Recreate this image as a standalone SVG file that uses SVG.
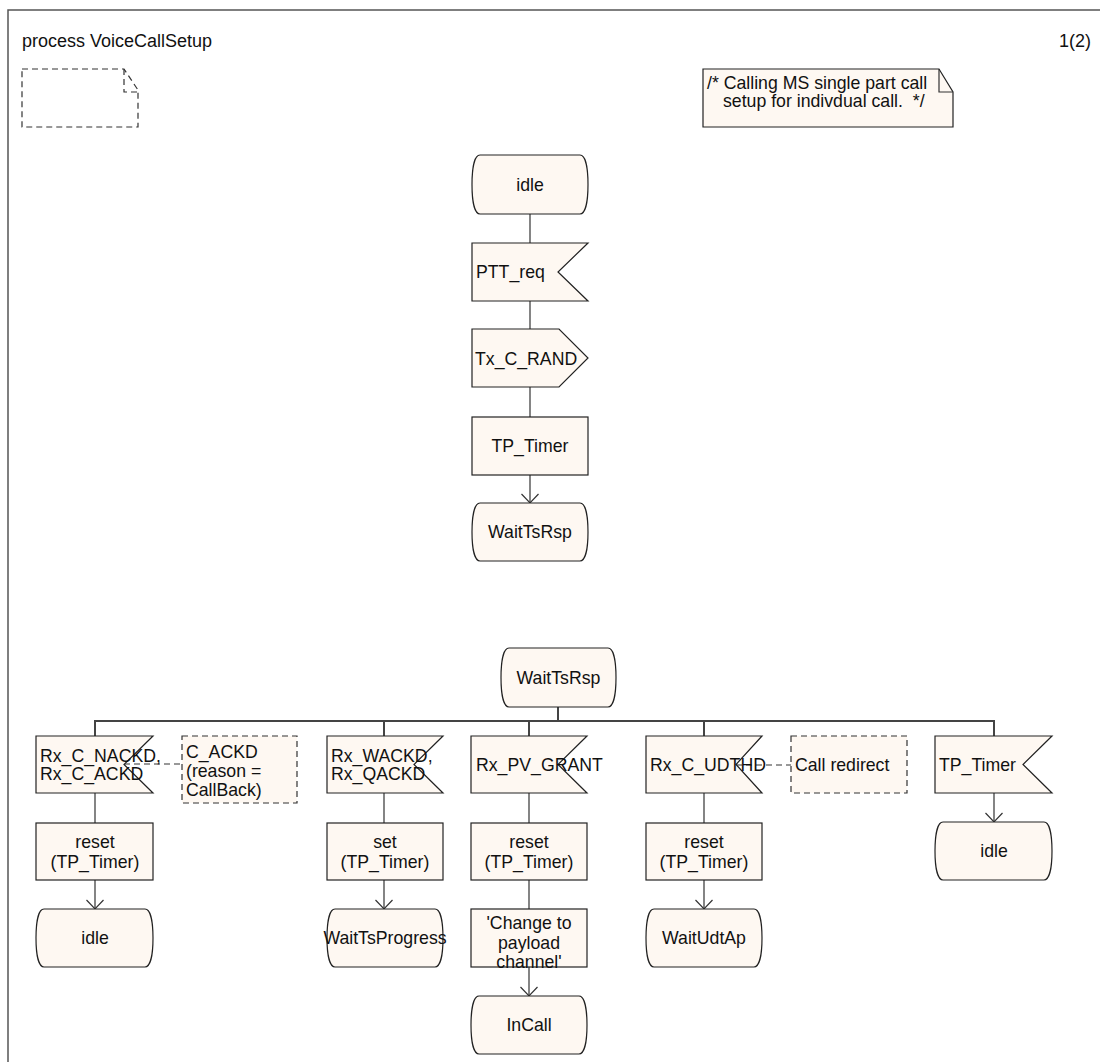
<svg xmlns="http://www.w3.org/2000/svg" width="1100" height="1062" viewBox="0 0 1100 1062">
<defs>
<style>
text{font-family:"Liberation Sans",Arial,sans-serif;font-size:17.7px;fill:#111}
.sh{fill:#fef8f2;stroke:#222;stroke-width:1.2}
.cm{fill:#fef8f2;stroke:#333;stroke-width:1.2;stroke-dasharray:6,4}
.ln{fill:none;stroke:#333;stroke-width:1.2}
.dl{fill:none;stroke:#333;stroke-width:1.2;stroke-dasharray:6,4}
.bus{fill:none;stroke:#444;stroke-width:2}
.c{text-anchor:middle}
</style>
<marker id="ah" markerWidth="12" markerHeight="20" viewBox="0 0 12 20" refX="11" refY="10" orient="auto" markerUnits="userSpaceOnUse">
<path d="M2,1.5 L11,10 L2,18.5" fill="none" stroke="#333" stroke-width="1.2"/>
</marker>
</defs>
<rect width="1100" height="1062" fill="#fff"/>
<g id="frame">
<path d="M8,1062 V10 H1100" fill="none" stroke="#555" stroke-width="1.5"/>
<text x="22" y="47" style="font-size:18px">process VoiceCallSetup</text>
<text x="1091" y="47" style="font-size:18px;text-anchor:end">1(2)</text>
</g>
<g id="decl">
<path d="M22,69 H124 L138,90 V127 H22 Z" class="dl"/>
<path d="M124,69 V92 H138" class="dl"/>
</g>
<g id="note">
<path d="M703,69 H939 L953,92 V127 H703 Z" class="sh"/>
<path d="M939,69 V92 H953" class="ln"/>
<text x="707" y="89">/* Calling MS single part call</text>
<text x="723" y="107">setup for indivdual call.&#160; */</text>
</g>
<g id="connectors">
<path d="M530,214 V243" class="ln"/>
<path d="M530,301 V329" class="ln"/>
<path d="M530,387 V417" class="ln"/>
<path d="M530,475 V503" class="ln" marker-end="url(#ah)"/>
<path d="M558,707 V721" class="bus"/>
<path d="M95,736 V721 H994 V736" class="bus"/>
<path d="M384,721 V736 M529,721 V736 M704,721 V736" class="bus"/>
<path d="M124,764 H182" class="dl"/>
<path d="M736,765 H791" class="dl"/>
<path d="M95,793 V823" class="ln"/>
<path d="M95,880 V909" class="ln" marker-end="url(#ah)"/>
<path d="M384,793 V823" class="ln"/>
<path d="M384,880 V909" class="ln" marker-end="url(#ah)"/>
<path d="M529,793 V823" class="ln"/>
<path d="M529,880 V909" class="ln"/>
<path d="M529,967 V996" class="ln" marker-end="url(#ah)"/>
<path d="M704,793 V823" class="ln"/>
<path d="M704,880 V909" class="ln" marker-end="url(#ah)"/>
<path d="M994,793 V822" class="ln" marker-end="url(#ah)"/>
</g>
<g id="idle_top">
<path d="M480,155 H580 C586,155 588,170 588,184.5 C588,199 586,214 580,214 H480 C474,214 472,199 472,184.5 C472,170 474,155 480,155 Z" class="sh"/>
<text x="530" y="191" class="c">idle</text>
</g>
<g id="ptt_req">
<path d="M472,243 H588 L558,272 L588,301 H472 Z" class="sh"/>
<text x="476" y="278">PTT_req</text>
</g>
<g id="tx_c_rand">
<path d="M472,329 H559 L588,358 L559,387 H472 Z" class="sh"/>
<text x="475" y="365">Tx_C_RAND</text>
</g>
<g id="tp_timer_set">
<rect x="472" y="417" width="116" height="58" class="sh"/>
<text x="530" y="452" class="c">TP_Timer</text>
</g>
<g id="waittsrsp_top">
<path d="M480,503 H580 C586,503 588,518 588,532 C588,546 586,561 580,561 H480 C474,561 472,546 472,532 C472,518 474,503 480,503 Z" class="sh"/>
<text x="530" y="538" class="c">WaitTsRsp</text>
</g>
<g id="waittsrsp">
<path d="M509,648 H608 C614,648 616,663 616,677.5 C616,692 614,707 608,707 H509 C503,707 501,692 501,677.5 C501,663 503,648 509,648 Z" class="sh"/>
<text x="558.5" y="684" class="c">WaitTsRsp</text>
</g>
<g id="in_nackd">
<path d="M36,736 H153 L124,764.5 L153,793 H36 Z" class="sh"/>
<text x="40" y="762">Rx_C_NACKD,</text>
<text x="40" y="780">Rx_C_ACKD</text>
</g>
<g id="cm_ackd">
<rect x="182" y="736" width="115" height="67" class="cm"/>
<text x="186" y="758">C_ACKD</text>
<text x="186" y="777">(reason =</text>
<text x="186" y="796">CallBack)</text>
</g>
<g id="reset1">
<rect x="36" y="823" width="117" height="57" class="sh"/>
<text x="95" y="848" class="c">reset</text>
<text x="95" y="868" class="c">(TP_Timer)</text>
</g>
<g id="idle1">
<path d="M44,909 H145 C151,909 153,924 153,938 C153,952 151,967 145,967 H44 C38,967 36,952 36,938 C36,924 38,909 44,909 Z" class="sh"/>
<text x="95" y="944" class="c">idle</text>
</g>
<g id="in_wackd">
<path d="M327,736 H443 L414,764.5 L443,793 H327 Z" class="sh"/>
<text x="331" y="762">Rx_WACKD,</text>
<text x="331" y="780">Rx_QACKD</text>
</g>
<g id="set2">
<rect x="327" y="823" width="116" height="57" class="sh"/>
<text x="385" y="848" class="c">set</text>
<text x="385" y="868" class="c">(TP_Timer)</text>
</g>
<g id="waittsprogress">
<path d="M335,909 H435 C441,909 443,924 443,938 C443,952 441,967 435,967 H335 C329,967 327,952 327,938 C327,924 329,909 335,909 Z" class="sh"/>
<text x="385" y="944" class="c">WaitTsProgress</text>
</g>
<g id="in_grant">
<path d="M471,736 H587 L558,764.5 L587,793 H471 Z" class="sh"/>
<text x="476" y="771">Rx_PV_GRANT</text>
</g>
<g id="reset3">
<rect x="471" y="823" width="116" height="57" class="sh"/>
<text x="529" y="848" class="c">reset</text>
<text x="529" y="868" class="c">(TP_Timer)</text>
</g>
<g id="change">
<rect x="471" y="909" width="116" height="58" class="sh"/>
<text x="529" y="929" class="c">'Change to</text>
<text x="529" y="949" class="c">payload</text>
<text x="529" y="968" class="c">channel'</text>
</g>
<g id="incall">
<path d="M479,996 H579 C585,996 587,1011 587,1025 C587,1039 585,1054 579,1054 H479 C473,1054 471,1039 471,1025 C471,1011 473,996 479,996 Z" class="sh"/>
<text x="529" y="1031" class="c">InCall</text>
</g>
<g id="in_udthd">
<path d="M646,736 H762 L736,764.5 L762,793 H646 Z" class="sh"/>
<text x="650" y="771">Rx_C_UDTHD</text>
</g>
<g id="cm_redirect">
<rect x="791" y="736" width="116" height="57" class="cm"/>
<text x="795" y="771">Call redirect</text>
</g>
<g id="reset4">
<rect x="646" y="823" width="116" height="57" class="sh"/>
<text x="704" y="848" class="c">reset</text>
<text x="704" y="868" class="c">(TP_Timer)</text>
</g>
<g id="waitudtap">
<path d="M654,909 H754 C760,909 762,924 762,938 C762,952 760,967 754,967 H654 C648,967 646,952 646,938 C646,924 648,909 654,909 Z" class="sh"/>
<text x="704" y="944" class="c">WaitUdtAp</text>
</g>
<g id="in_tptimer">
<path d="M935,736 H1052 L1023,764.5 L1052,793 H935 Z" class="sh"/>
<text x="939" y="771">TP_Timer</text>
</g>
<g id="idle5">
<path d="M943,822 H1044 C1050,822 1052,837 1052,851 C1052,865 1050,880 1044,880 H943 C937,880 935,865 935,851 C935,837 937,822 943,822 Z" class="sh"/>
<text x="994" y="857" class="c">idle</text>
</g>
</svg>
